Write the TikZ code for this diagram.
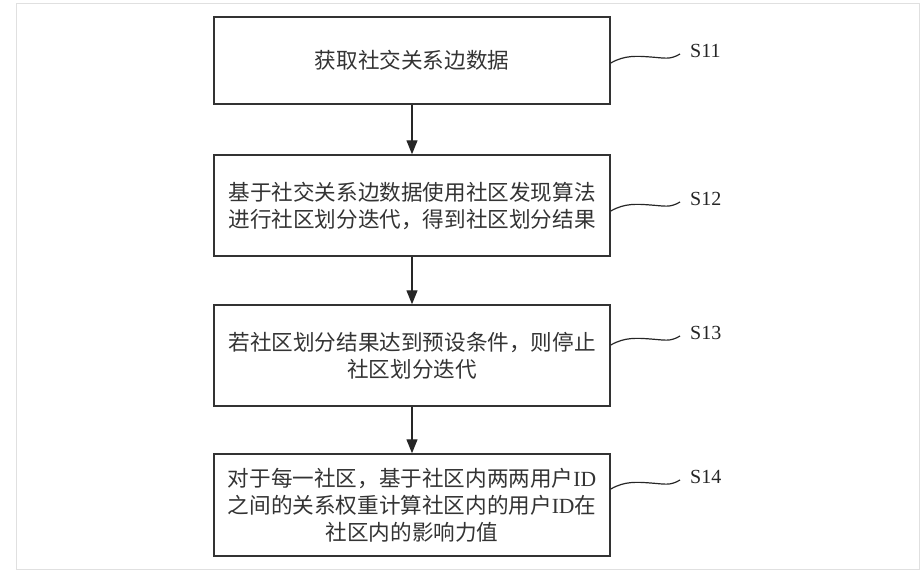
\documentclass[tikz,border=0pt]{standalone}
\usepackage{fontspec}
\setmainfont{Liberation Serif}
\newfontfamily\cjk{Noto Sans CJK SC}
\usetikzlibrary{arrows.meta,positioning}
\tikzset{
  stepbox/.style={draw=black!80, line width=1.5pt, minimum width=396pt, align=center,
    font=\cjk\fontsize{21.6}{27}\selectfont, text=black!80, inner sep=0pt},
  flow/.style={draw=black!85, line width=1.3pt, -{Triangle[length=14pt,width=11pt]}},
  wave/.style={draw=black!85, line width=1.2pt},
  steplab/.style={font=\fontsize{20}{24}\selectfont, text=black!85, inner sep=0pt, anchor=west}
}
\newcommand{\uid}{{\rmfamily ID}}
\begin{document}
\begin{tikzpicture}[x=1pt,y=-1pt]
        % Canvas and frame
        \useasboundingbox (0,0) rectangle (924,573);
        \draw[black!12, line width=1pt] (16,3) rectangle (919,569);
        % Steps
        \node[stepbox, minimum height=87pt] (b1) at (412,60.5) {获取社交关系边数据};
        \node[stepbox, minimum height=101pt] (b2) at (412,205.5) {基于社交关系边数据使用社区发现算法\\进行社区划分迭代，得到社区划分结果};
        \node[stepbox, minimum height=101pt] (b3) at (412,355.5) {若社区划分结果达到预设条件，则停止\\社区划分迭代};
        \node[stepbox, minimum height=102pt] (b4) at (412,505) {对于每一社区，基于社区内两两用户\uid\\之间的关系权重计算社区内的用户\uid 在\\社区内的影响力值};
        % Arrows
        \draw[flow] (b1) -- (b2);
        \draw[flow] (b2) -- (b3);
        \draw[flow] (b3) -- (b4);
        % Step labels
        \foreach \i/\y in {1/51, 2/199, 3/333, 4/477} {
          \node[steplab] (l\i) at (690,\y) {S1\i};
          \draw[wave] (b\i.east |- 0,\y+12) .. controls +(14,-8) and +(-14,-1) .. +(40,-6)
            .. controls +(14,1) and +(-10,6) .. ([xshift=-10pt,yshift=-3pt]l\i.west);
        }
      \end{tikzpicture}
\end{document}
